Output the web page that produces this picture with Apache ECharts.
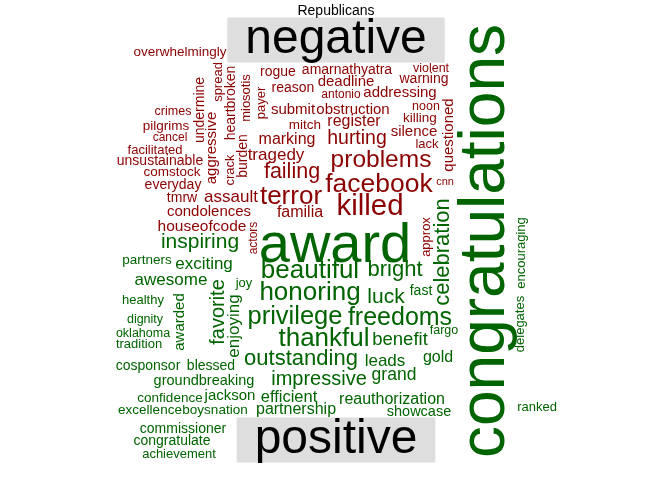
<!DOCTYPE html>
<html>
<head>
<meta charset="utf-8">
<script src="https://cdn.jsdelivr.net/npm/echarts@6/dist/echarts.min.js"></script>
<style>html,body{margin:0;padding:0;background:#fff}#c{width:672px;height:480px}</style>
</head>
<body>
<div id="c"></div>
<script>
// ---- data: words and their weights (weight read as rendered font size) ----
var negWords = ["overwhelmingly","spread","heartbroken","miosotis","payer","undermine","aggressive","crack","burden","rogue","amarnathyatra","violent","reason","deadline","warning","antonio","addressing","submit","obstruction","noon","killing","mitch","register","silence","lack","questioned","hurting","marking","problems","tragedy","failing","facebook","cnn","killed","terror","familia","assault","condolences","houseofcode","actors","approx","tmrw","everyday","comstock","unsustainable","facilitated","cancel","pilgrims","crimes"];
var negWeight = [13.5,13,14,13,13,14,15,13,14,14,14,12.5,14,15,14,12,15,15,15,12.5,13.5,13.5,16,15,13,15,19.5,16,24.5,17,21.5,26.5,11,29.5,26,16,17,15,15.5,12,13,14,14,13.5,14,13,12,13.5,12.5];
var posWords = ["award","congratulations","inspiring","partners","exciting","awesome","joy","healthy","favorite","enjoying","awarded","dignity","oklahoma","tradition","cosponsor","blessed","groundbreaking","confidence","jackson","excellence","boysnation","commissioner","congratulate","achievement","beautiful","bright","honoring","luck","fast","celebration","privilege","freedoms","thankful","benefit","fargo","outstanding","leads","gold","impressive","grand","efficient","reauthorization","partnership","showcase","delegates","encouraging","ranked"];
var posWeight = [56,64,21,13.5,17,17,13,13,20,17,15,12.5,12.5,13,14,14,14.5,13.5,15,13.5,13.5,14,14,13,26,22,26,21,14,22,25.5,25,26,18.5,12.5,22,17,16,20,17.5,16.5,16,16,14.5,13,13,13];
var groupLabels = ["negative","positive"];
var titleText = "Republicans";

// ---- layout (pixel coordinates of each word's centre, rotation) ----
var negX = [180,218,231,246,261,200,212,230,243,278,347,431,293,346,424,341,400,293,353,426,420,305,354,414,427,449,357,287,381,276,292,379,445,370,291,300,231,209,202,254,426,182,173,172,160,155,170,166,173];
var negY = [52,82,103,98,103,110,148,170,156,72,70,69,88,82,79,95,93,110,110,107,118,125,122,132,144,135,139,140,160,155,172,185,182,207,197,213,197,212,227,238,237,198,185,172,161,150,138,126,112];
var negRot = [0,90,90,90,90,90,90,90,90,0,0,0,0,0,0,0,0,0,0,0,0,0,0,0,0,90,0,0,0,0,0,0,0,0,0,0,0,0,0,90,90,0,0,0,0,0,0,0,0];
var posX = [335,486,200,147,204,171,244,143,218,234,180,145,143,139,148,211,204,170,230,150,215,183,172,179,310,395,310,386,421,443,295,400,324,400,444,301,385,438,319,394,289,392,296,419,520,521,537];
var posY = [247,241,242,260,264,280,283,300,312,326,322,320,334,344,366,366,381,398,396,410,410,429,441,454,271,270,293,297,291,252,317,318,339,340,331,359,361,358,379,375,397,400,410,412,324,253,407];
var posRot = [0,90,0,0,0,0,0,0,90,90,90,0,0,0,0,0,0,0,0,0,0,0,0,0,0,0,0,0,0,90,0,0,0,0,0,0,0,0,0,0,0,0,0,0,90,90,0];
var groupX = [336,336];
var groupY = [40,440];

var FONT = '"Liberation Sans", Arial, Helvetica, sans-serif';
var NEG = '#8B0000', POS = '#006400';

function build(words, weights, xs, ys, rots, color) {
  return words.map(function (w, i) {
    return {
      name: w,
      value: [xs[i], ys[i]],
      label: { fontSize: weights[i], rotate: rots[i], color: color }
    };
  });
}

var chart = echarts.init(document.getElementById('c'), null, { renderer: 'canvas' });
var baseLabel = {
  show: true, position: 'inside', formatter: '{b}',
  fontFamily: FONT, align: 'center', verticalAlign: 'middle'
};
var common = { type: 'scatter', symbolSize: 0, clip: false, silent: true, itemStyle: { opacity: 1 } };
chart.setOption({
  animation: false,
  title: { text: titleText, left: 'center', top: -1,
    textStyle: { fontFamily: FONT, fontSize: 14, fontWeight: 'normal', color: '#000' } },
  grid: { left: 0, right: 0, top: 0, bottom: 0 },
  xAxis: { type: 'value', min: 0, max: 672, show: false },
  yAxis: { type: 'value', min: 0, max: 480, inverse: true, show: false },
  series: [
    Object.assign({}, common, {
      label: Object.assign({}, baseLabel, { backgroundColor: '#dedede', padding: [0, 18], lineHeight: 45, fontSize: 48, color: '#000' }),
      data: groupLabels.map(function (g, i) { return { name: g, value: [groupX[i], groupY[i]] }; }) }),
    Object.assign({}, common, { label: baseLabel,
      data: build(negWords, negWeight, negX, negY, negRot, NEG) }),
    Object.assign({}, common, { label: baseLabel,
      data: build(posWords, posWeight, posX, posY, posRot, POS) })
  ]
});
</script>
</body>
</html>
